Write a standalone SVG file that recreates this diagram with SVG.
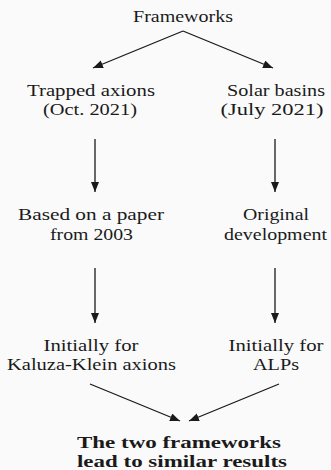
<svg xmlns="http://www.w3.org/2000/svg" width="331" height="470" viewBox="0 0 331 470">
<style>
text{font-family:'Liberation Serif','Times New Roman',Times,serif;font-size:17px;fill:#1a1a1a;text-anchor:middle}
.b{font-weight:bold}
.c{stroke:#1a1a1a;stroke-width:1.3;fill:none}
</style>
<defs>
<marker id="ah" markerUnits="userSpaceOnUse" markerWidth="12" markerHeight="10" refX="10" refY="4" orient="auto">
<path d="M0,0 L10,4 L0,8 Z" fill="#1a1a1a"/>
</marker>
</defs>
<rect width="331" height="470" fill="#fafafa"/>
<g id="connectors">
<path class="c" d="M183,31 L93,68" marker-end="url(#ah)"/>
<path class="c" d="M183,31 L273,68" marker-end="url(#ah)"/>
<path class="c" d="M95,139 L95,192" marker-end="url(#ah)"/>
<path class="c" d="M275,139 L275,192" marker-end="url(#ah)"/>
<path class="c" d="M95,268 L95,323" marker-end="url(#ah)"/>
<path class="c" d="M275,268 L275,323" marker-end="url(#ah)"/>
<path class="c" d="M90,384 L180,421" marker-end="url(#ah)"/>
<path class="c" d="M279,384 L189,421" marker-end="url(#ah)"/>
</g>
<g id="frameworks"><text font-family="Liberation Serif, serif" x="183" y="22" textLength="100" lengthAdjust="spacingAndGlyphs">Frameworks</text></g>
<g id="trapped">
<text x="91" y="96" textLength="128" lengthAdjust="spacingAndGlyphs">Trapped axions</text>
<text x="90" y="115" textLength="94" lengthAdjust="spacingAndGlyphs">(Oct. 2021)</text>
</g>
<g id="solar">
<text x="276" y="96" textLength="98" lengthAdjust="spacingAndGlyphs">Solar basins</text>
<text x="272" y="115" textLength="103" lengthAdjust="spacingAndGlyphs">(July 2021)</text>
</g>
<g id="based">
<text x="91" y="220" textLength="146" lengthAdjust="spacingAndGlyphs">Based on a paper</text>
<text x="91.5" y="240" textLength="83" lengthAdjust="spacingAndGlyphs">from 2003</text>
</g>
<g id="original">
<text x="276" y="220" textLength="66" lengthAdjust="spacingAndGlyphs">Original</text>
<text x="275.5" y="240" textLength="103" lengthAdjust="spacingAndGlyphs">development</text>
</g>
<g id="kk">
<text x="91" y="351" textLength="95" lengthAdjust="spacingAndGlyphs">Initially for</text>
<text x="91.5" y="370" textLength="169" lengthAdjust="spacingAndGlyphs">Kaluza-Klein axions</text>
</g>
<g id="alps">
<text x="276" y="351" textLength="95" lengthAdjust="spacingAndGlyphs">Initially for</text>
<text x="276" y="370" textLength="46" lengthAdjust="spacingAndGlyphs">ALPs</text>
</g>
<g id="result">
<text class="b" x="179" y="448" textLength="204" lengthAdjust="spacingAndGlyphs">The two frameworks</text>
<text class="b" x="182" y="467" textLength="210" lengthAdjust="spacingAndGlyphs">lead to similar results</text>
</g>
</svg>
